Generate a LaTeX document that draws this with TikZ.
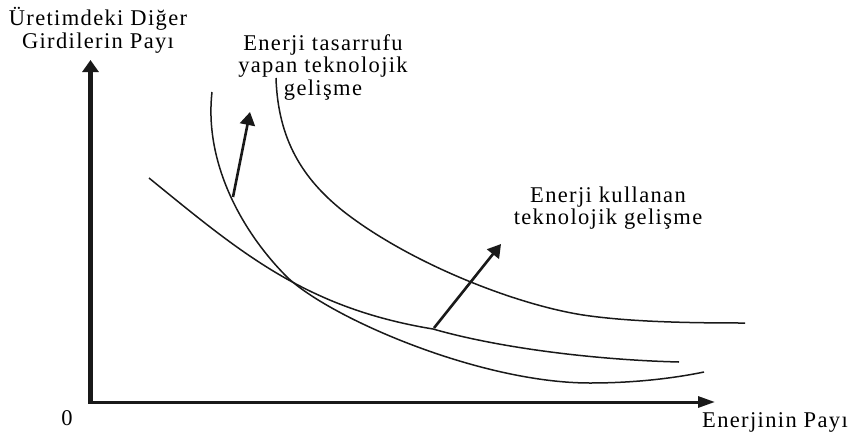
\documentclass[tikz,border=0pt]{standalone}
\usepackage{fontspec}
\setmainfont{Liberation Serif}[LetterSpace=6]
\usetikzlibrary{arrows.meta}
\begin{document}
\begin{tikzpicture}[x=1pt,y=-1pt,
  lbl/.style={anchor=base,inner sep=0pt,font=\fontsize{22.5}{24}\selectfont},
  curve/.style={line width=1.5pt,black!90},
  axis/.style={black!90},
  shiftarrow/.style={line width=2.6pt,black!90,-{Triangle[length=13pt,width=15pt]}}]
\useasboundingbox (0,0) rectangle (857,437);
% axes
\coordinate (O) at (90.5,402);
\coordinate (Ytop) at (90.5,60);
\coordinate (Xend) at (715,402);
\draw[axis,line width=4.5pt,-{Triangle[length=12pt,width=16pt]}] (90.5,403.5) -- (Ytop);
\draw[axis,line width=3pt,-{Triangle[length=17pt,width=11pt]}] (88.3,402) -- (Xend);
% labels
\node[lbl] (yl1) at (98,25) {Üretimdeki Diğer};
\node[lbl] (yl2) at (98,48) {Girdilerin Payı};
\node[lbl] (zero) at (67,425) {0};
\node[lbl] (xl) at (775,427) {Enerjinin Payı};
\node[lbl] (t1) at (323,50) {Enerji tasarrufu};
\node[lbl] (t2) at (323,72.5) {yapan teknolojik};
\node[lbl] (t3) at (323,95) {gelişme};
\node[lbl] (k1) at (608,202) {Enerji kullanan};
\node[lbl] (k2) at (608,224) {teknolojik gelişme};
% curves
\draw[curve] (212,92) .. controls (204,163) and (242,232) .. (287,277)
  .. controls (330,318) and (480,383) .. (590,383)
  .. controls (640,383) and (680,377) .. (704,372);
\draw[curve] (149,178) .. controls (240,252) and (305,308) .. (433,329)
  .. controls (503,349) and (600,360) .. (679,362);
\draw[curve] (276,78) .. controls (278,140) and (303,179) .. (343,211)
  .. controls (408,262) and (513,304) .. (583,315)
  .. controls (630,322) and (690,323) .. (745,323);
% shift arrows
\coordinate (a1s) at (233,197);
\coordinate (a1e) at (250,112);
\coordinate (a2s) at (434,328);
\coordinate (a2e) at (501,244);
\draw[shiftarrow] (a1s) -- (a1e);
\draw[shiftarrow] (a2s) -- (a2e);
\end{tikzpicture}
\end{document}
